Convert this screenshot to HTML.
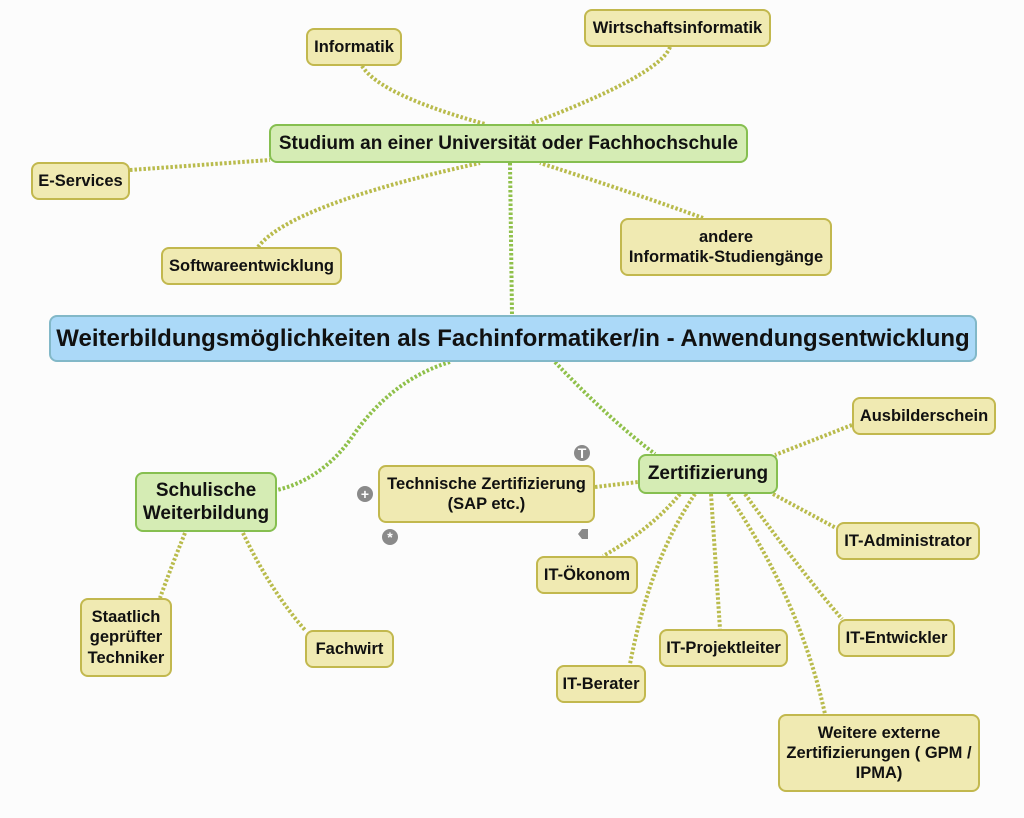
<!DOCTYPE html>
<html><head><meta charset="utf-8"><style>
html,body{margin:0;padding:0;background:#fcfcfc;}
body{width:1024px;height:818px;position:relative;overflow:hidden;font-family:"Liberation Sans",sans-serif;font-weight:bold;}
.n{position:absolute;box-sizing:border-box;display:flex;align-items:center;justify-content:center;text-align:center;border-radius:8px;color:#111;line-height:1.22;white-space:nowrap;}
.y{background:#f0eab2;border:2.5px solid #c2b84e;font-size:16.5px;}
.g{background:#d5ecb4;border:2.5px solid #86bf50;font-size:19px;}
.b{background:#abd9f8;border:2px solid #82b8c8;font-size:24px;}
.ic{position:absolute;width:16px;height:16px;border-radius:50%;background:#8a8a8a;color:#fff;font-size:14px;line-height:16px;text-align:center;}
svg{position:absolute;left:0;top:0;}
</style></head><body>
<svg width="1024" height="818">
<g fill="none" stroke-width="4" stroke-dasharray="2.5 2">
<g stroke="#b9bb4c">
<path d="M362 66 Q380 95 485 124"/>
<path d="M670 47 Q660 75 530 124"/>
<path d="M130 170 L270 160"/>
<path d="M258 247 Q290 205 480 163"/>
<path d="M703 218 Q640 195 540 163"/>
<path d="M595 487 L638 482"/>
<path d="M852 425 L775 455"/>
<path d="M773 494 L836 528"/>
<path d="M680 494 Q650 530 603 556"/>
<path d="M695 494 Q650 560 630 664"/>
<path d="M711 494 L720 629"/>
<path d="M728 494 Q800 600 825 714"/>
<path d="M745 494 Q800 570 842 619"/>
<path d="M185 533 Q170 570 160 598"/>
<path d="M243 533 Q270 590 305 630"/>
</g>
<g stroke="#8fc04a">
<path d="M510 163 L512 315"/>
<path d="M450 362 Q390 380 350 440 Q320 480 277 490"/>
<path d="M555 362 Q610 420 655 454"/>
</g>
</g>
</svg>
<div class="n y" style="left:306px;top:28px;width:96px;height:38px">Informatik</div>
<div class="n y" style="left:584px;top:9px;width:187px;height:38px">Wirtschaftsinformatik</div>
<div class="n g" style="left:269px;top:124px;width:479px;height:39px">Studium an einer Universität oder Fachhochschule</div>
<div class="n y" style="left:31px;top:162px;width:99px;height:38px">E-Services</div>
<div class="n y" style="left:161px;top:247px;width:181px;height:38px">Softwareentwicklung</div>
<div class="n y" style="left:620px;top:218px;width:212px;height:58px">andere<br>Informatik-Studiengänge</div>
<div class="n b" style="left:49px;top:315px;width:928px;height:47px">Weiterbildungsmöglichkeiten als Fachinformatiker/in - Anwendungsentwicklung</div>
<div class="n g" style="left:135px;top:472px;width:142px;height:60px">Schulische<br>Weiterbildung</div>
<div class="n y" style="left:378px;top:465px;width:217px;height:58px">Technische Zertifizierung<br>(SAP etc.)</div>
<div class="n g" style="left:638px;top:454px;width:140px;height:40px">Zertifizierung</div>
<div class="n y" style="left:852px;top:397px;width:144px;height:38px">Ausbilderschein</div>
<div class="n y" style="left:836px;top:522px;width:144px;height:38px">IT-Administrator</div>
<div class="n y" style="left:536px;top:556px;width:102px;height:38px">IT-Ökonom</div>
<div class="n y" style="left:838px;top:619px;width:117px;height:38px">IT-Entwickler</div>
<div class="n y" style="left:659px;top:629px;width:129px;height:38px">IT-Projektleiter</div>
<div class="n y" style="left:556px;top:665px;width:90px;height:38px">IT-Berater</div>
<div class="n y" style="left:778px;top:714px;width:202px;height:78px">Weitere externe<br>Zertifizierungen ( GPM /<br>IPMA)</div>
<div class="n y" style="left:80px;top:598px;width:92px;height:79px">Staatlich<br>geprüfter<br>Techniker</div>
<div class="n y" style="left:305px;top:630px;width:89px;height:38px">Fachwirt</div>
<div class="ic" style="left:574px;top:445px">T</div>
<div class="ic" style="left:357px;top:486px">+</div>
<div class="ic" style="left:382px;top:529px">*</div>
<div style="position:absolute;left:578px;top:529px;width:10px;height:10px;background:#8a8a8a;clip-path:polygon(0 50%,40% 0,100% 0,100% 100%,40% 100%)"></div>
</body></html>
